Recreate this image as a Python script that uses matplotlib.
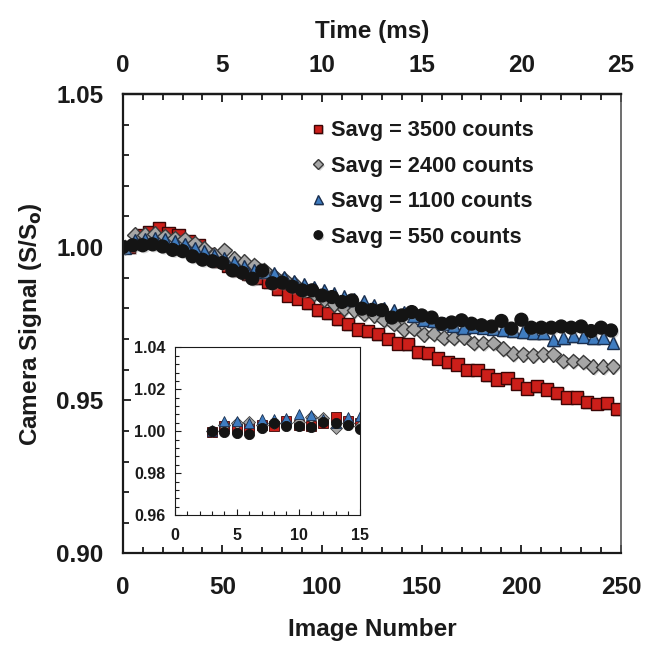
import numpy as np
import matplotlib
matplotlib.use('Agg')
import matplotlib.pyplot as plt
import matplotlib.patheffects as pe
from matplotlib.ticker import MultipleLocator, FixedLocator, FormatStrFormatter

plt.rcParams['font.family'] = ['Liberation Sans', 'DejaVu Sans']
plt.rcParams['font.weight'] = 'bold'

# main plot data (image number, normalised signal)
img_red = np.arange(3, 249, 5)
img_gray = np.arange(1, 247, 5)
img_blue = np.arange(1, 247, 5)
img_black = np.arange(0, 246, 5)

sig_3500 = [1.0000, 1.0040, 1.0049, 1.0063, 1.0046, 1.0038, 1.0020, 1.0006, 0.9978, 0.9955,
            0.9940, 0.9924, 0.9912, 0.9900, 0.9886, 0.9864, 0.9842, 0.9832, 0.9817, 0.9794,
            0.9785, 0.9766, 0.9748, 0.9731, 0.9725, 0.9716, 0.9701, 0.9685, 0.9683, 0.9658,
            0.9654, 0.9636, 0.9625, 0.9617, 0.9600, 0.9600, 0.9582, 0.9568, 0.9573, 0.9554,
            0.9538, 0.9546, 0.9535, 0.9524, 0.9509, 0.9509, 0.9494, 0.9489, 0.9491, 0.9471]
sig_2400 = [1.0000, 1.0040, 1.0041, 1.0044, 1.0035, 1.0030, 1.0025, 1.0012, 0.9995, 0.9975,
            0.9989, 0.9962, 0.9952, 0.9940, 0.9925, 0.9905, 0.9895, 0.9880, 0.9862, 0.9848,
            0.9830, 0.9813, 0.9799, 0.9794, 0.9783, 0.9777, 0.9763, 0.9750, 0.9732, 0.9734,
            0.9715, 0.9717, 0.9704, 0.9704, 0.9706, 0.9687, 0.9687, 0.9687, 0.9668, 0.9652,
            0.9650, 0.9647, 0.9650, 0.9650, 0.9628, 0.9628, 0.9625, 0.9609, 0.9609, 0.9611]
sig_1100 = [1.0000, 1.0022, 1.0025, 1.0028, 1.0026, 1.0018, 1.0010, 0.9997, 0.9985, 0.9973,
            0.9962, 0.9950, 0.9938, 0.9924, 0.9920, 0.9913, 0.9902, 0.9888, 0.9878, 0.9868,
            0.9858, 0.9848, 0.9838, 0.9830, 0.9821, 0.9810, 0.9800, 0.9794, 0.9785, 0.9775,
            0.9763, 0.9760, 0.9752, 0.9745, 0.9739, 0.9742, 0.9738, 0.9735, 0.9731, 0.9728,
            0.9723, 0.9720, 0.9720, 0.9698, 0.9705, 0.9710, 0.9709, 0.9705, 0.9706, 0.9690]
sig_550 = [1.0000, 1.0006, 1.0006, 1.0009, 1.0002, 0.9991, 0.9987, 0.9970, 0.9959, 0.9954,
           0.9948, 0.9924, 0.9916, 0.9897, 0.9923, 0.9882, 0.9884, 0.9871, 0.9859, 0.9859,
           0.9842, 0.9837, 0.9821, 0.9826, 0.9799, 0.9795, 0.9794, 0.9770, 0.9777, 0.9788,
           0.9777, 0.9770, 0.9750, 0.9754, 0.9761, 0.9750, 0.9745, 0.9741, 0.9759, 0.9734,
           0.9763, 0.9737, 0.9737, 0.9737, 0.9741, 0.9737, 0.9741, 0.9726, 0.9737, 0.9728]

# inset data (first frames)
inset_img = np.arange(3, 16)
ins_3500 = [0.9998, 1.0024, 1.0016, 1.0021, 1.0029, 1.0027, 1.0051, 1.0032, 1.0024, 1.0040, 1.0069, 1.0048, 1.0040]
ins_2400 = [1.0000, 1.0032, 1.0040, 1.0043, 1.0032, 1.0040, 1.0040, 1.0043, 1.0067, 1.0061, 1.0016, 1.0040, 1.0027]
ins_1100 = [1.0000, 1.0048, 1.0048, 1.0040, 1.0059, 1.0059, 1.0062, 1.0080, 1.0077, 1.0056, 1.0040, 1.0067, 1.0075]
ins_550 = [1.0000, 0.9998, 0.9990, 0.9987, 1.0014, 1.0037, 1.0027, 1.0027, 1.0018, 1.0043, 1.0040, 1.0029, 1.0010]

labels = ['Savg = 3500 counts', 'Savg = 2400 counts', 'Savg = 1100 counts', 'Savg = 550 counts']
time_ticks = [0, 5, 10, 15, 20, 25]

styles = [
    dict(marker='s', mfc='#cc1f1a', mec='#3a0505', ms=8.8),
    dict(marker='D', mfc='#a6a6a6', mec='#3a3a3a', ms=7.5),
    dict(marker='^', mfc='#3f7cc0', mec='#1a2f4f', ms=9.3),
    dict(marker='o', mfc='#141414', mec='#141414', ms=9.2),
]
shadow = [pe.SimplePatchShadow(offset=(1.2, -1.2), shadow_rgbFace='#888888', alpha=0.35), pe.Normal()]
txt_col = '#1a1a1a'
fs = 17.5

fig = plt.figure(figsize=(6.53, 6.48), dpi=100)
ax = fig.add_axes([0.188, 0.146, 0.763, 0.709])

series = [(img_red, sig_3500), (img_gray, sig_2400), (img_blue, sig_1100), (img_black, sig_550)]
for (xs, ys), st, lab in zip(series, styles, labels):
    ax.plot(xs, ys, ls='none', mew=1.0, label=lab, path_effects=shadow, **st)

ax.set_xlim(0, 250)
ax.set_ylim(0.90, 1.05)
ax.xaxis.set_major_locator(MultipleLocator(50))
ax.xaxis.set_minor_locator(MultipleLocator(10))
ax.yaxis.set_major_locator(MultipleLocator(0.05))
ax.yaxis.set_minor_locator(MultipleLocator(0.01))
ax.yaxis.set_major_formatter(FormatStrFormatter('%.2f'))
ax.tick_params(axis='both', which='both', direction='in', right=False, top=False,
               labelsize=fs, width=1.3, colors=txt_col)
ax.tick_params(axis='both', which='major', length=6)
ax.tick_params(axis='both', which='minor', length=4)
ax.tick_params(axis='x', pad=16)
ax.tick_params(axis='y', pad=14)
for sp in ['left', 'bottom', 'top']:
    ax.spines[sp].set_linewidth(1.6)
    ax.spines[sp].set_color(txt_col)
ax.spines['right'].set_linewidth(1.2)
ax.spines['right'].set_color('#555555')

ax.set_xlabel('Image Number', fontsize=fs, fontweight='bold', labelpad=14, color=txt_col)
ax.set_ylabel('Camera Signal (S/S$_\\mathbf{o}$)', fontsize=fs, fontweight='bold', labelpad=9, color=txt_col)

secax = ax.secondary_xaxis('top', functions=(lambda x: x / 10.0, lambda t: t * 10.0))
secax.xaxis.set_major_locator(FixedLocator(time_ticks))
secax.xaxis.set_minor_locator(FixedLocator(np.arange(0, 26)))
secax.tick_params(axis='x', which='both', direction='in', labelsize=fs, width=1.3, pad=12, colors=txt_col)
secax.tick_params(axis='x', which='major', length=6)
secax.tick_params(axis='x', which='minor', length=4)
secax.spines['top'].set_linewidth(1.6)
secax.set_xlabel('Time (ms)', fontsize=fs, fontweight='bold', labelpad=12, color=txt_col)

leg = ax.legend(loc='upper left', bbox_to_anchor=(0.34, 0.985), frameon=False, fontsize=15.7,
                handlelength=0.6, handletextpad=0.3, labelspacing=0.66, markerscale=0.66)
for t in leg.get_texts():
    t.set_fontweight('bold')
    t.set_color(txt_col)

# inset
axi = fig.add_axes([0.268, 0.205, 0.284, 0.259])
ins_series = [ins_3500, ins_2400, ins_1100, ins_550]
for ys, st in zip(ins_series, styles):
    s2 = dict(st)
    s2['ms'] = st['ms'] * 0.8
    axi.plot(inset_img, ys, ls='none', mew=0.6, **s2)
axi.set_xlim(0, 15)
axi.set_ylim(0.96, 1.04)
axi.xaxis.set_major_locator(MultipleLocator(5))
axi.xaxis.set_minor_locator(MultipleLocator(1))
axi.yaxis.set_major_locator(MultipleLocator(0.02))
axi.yaxis.set_minor_locator(MultipleLocator(0.004))
axi.yaxis.set_major_formatter(FormatStrFormatter('%.2f'))
axi.tick_params(axis='both', which='both', direction='in', labelsize=11.5, width=0.8, colors=txt_col)
axi.tick_params(axis='both', which='major', length=4)
axi.tick_params(axis='both', which='minor', length=3)
axi.tick_params(axis='x', pad=9)
axi.tick_params(axis='y', pad=7)
for sp in axi.spines.values():
    sp.set_linewidth(0.8)
    sp.set_color(txt_col)

fig.savefig('out.png', dpi=100)
